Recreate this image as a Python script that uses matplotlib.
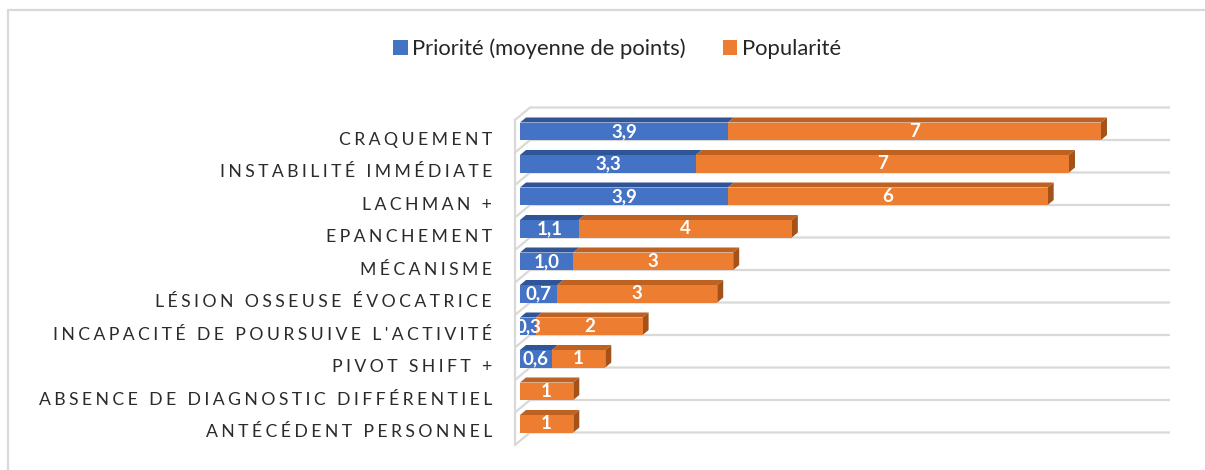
import matplotlib
matplotlib.use("Agg")
import matplotlib.pyplot as plt
from matplotlib.patches import Polygon, Patch
from matplotlib.lines import Line2D

categories = ["CRAQUEMENT", "INSTABILITÉ IMMÉDIATE", "LACHMAN +", "EPANCHEMENT", "MÉCANISME",
              "LÉSION OSSEUSE ÉVOCATRICE", "INCAPACITÉ DE POURSUIVE L'ACTIVITÉ", "PIVOT SHIFT +",
              "ABSENCE DE DIAGNOSTIC DIFFÉRENTIEL", "ANTÉCÉDENT PERSONNEL"]
priorite = [3.9, 3.3, 3.9, 1.1, 1.0, 0.7, 0.3, 0.6, 0, 0]
popularite = [7, 7, 6, 4, 3, 3, 2, 1, 1, 1]
legend_labels = ["Priorité (moyenne de points)", "Popularité"]

plt.rcParams['font.family'] = ['Lato', 'DejaVu Sans']

blue, blue_top = '#4472C4', '#2F5597'
orange, orange_top, orange_side = '#ED7D31', '#BF6120', '#A35219'
grid_col = '#d9d9d9'

W, H = 1205, 470
fig = plt.figure(figsize=(W / 100, H / 100), dpi=100)

# placement en pixels : 0 -> x=520, 1 unité = 53.3 px, une ligne = 32.5 px
ux, uy = 53.3, 32.5
x0, ytop = 520, 107.5
xmin, xmax = -0.2, 12.2
ymin, ymax = -0.8, 10.0
left = x0 + xmin * ux
right = x0 + xmax * ux
top = ytop + (ymin + 0.5) * uy
bottom = ytop + (ymax + 0.5) * uy
ax = fig.add_axes([left / W, 1 - bottom / H, (right - left) / W, (bottom - top) / H])
ax.set_xlim(xmin, xmax)
ax.set_ylim(ymax, ymin)
ax.set_frame_on(False)
ax.set_xticks([])

n = len(categories)

# "murs" 3D et lignes de quadrillage
wall_x = -5 / ux
back_x = 10 / ux
wd = 12.5 / uy
for k in range(n + 1):
    b = k - 0.5
    ax.plot([wall_x, back_x, xmax], [b + wd, b, b], color=grid_col, lw=1.6, zorder=1,
            solid_capstyle='butt')
ax.plot([wall_x, wall_x], [-0.5 + wd, n - 0.5 + wd], color=grid_col, lw=1.6, zorder=1)

# barres avec effet 3D
h = 17.5 / uy
dx = 6 / ux
dy = 5 / uy


def top_face(a, b, yb, col):
    yt = yb - h
    ax.add_patch(Polygon([(a, yt), (a + dx, yt - dy), (b + dx, yt - dy), (b, yt)],
                         closed=True, fc=col, ec='none', zorder=3))


for i in range(n):
    yb = i + 0.5
    p = priorite[i]
    q = popularite[i]
    tot = p + q
    if p > 0:
        ax.barh(yb - h / 2, p, height=h, left=0, color=blue, zorder=4)
        top_face(0, p, yb, blue_top)
        ax.text(p / 2, yb - h / 2, f"{p:.1f}".replace('.', ','), ha='center', va='center',
                color='white', fontsize=13.5, fontweight='bold', zorder=6)
    ax.barh(yb - h / 2, q, height=h, left=p, color=orange, zorder=4)
    top_face(p, tot, yb, orange_top)
    ax.add_patch(Polygon([(tot, yb), (tot, yb - h), (tot + dx, yb - h - dy), (tot + dx, yb - dy)],
                         closed=True, fc=orange_side, ec='none', zorder=3))
    ax.text(p + q / 2, yb - h / 2, str(q), ha='center', va='center',
            color='white', fontsize=13.5, fontweight='bold', zorder=6)

# étiquettes de catégories (avec espacement des lettres)
def spaced(s):
    return '\u2009\u200a'.join(s)


ax.set_yticks([i + 0.5 + 4.5 / uy for i in range(n)])
ax.set_yticklabels([spaced(c) for c in categories], fontsize=12.7, color='#2b2b2b')
ax.tick_params(axis='y', length=0, pad=12.5)
for lab in ax.get_yticklabels():
    lab.set_va('baseline')

# légende
handles = [Patch(fc=blue, ec='none'), Patch(fc=orange, ec='none')]
fig.legend(handles, legend_labels, loc='center', bbox_to_anchor=(617 / W, 1 - 49 / H), ncol=2,
           frameon=False, fontsize=15.8, handlelength=0.65, handleheight=0.65,
           handletextpad=0.2, columnspacing=1.7, labelcolor='#262626')

# cadre du graphique
fig.add_artist(Line2D([8 / W, 8 / W, 1], [0, 1 - 10 / H, 1 - 10 / H], color=grid_col, lw=1.6))

fig.savefig('out.png', dpi=100)
